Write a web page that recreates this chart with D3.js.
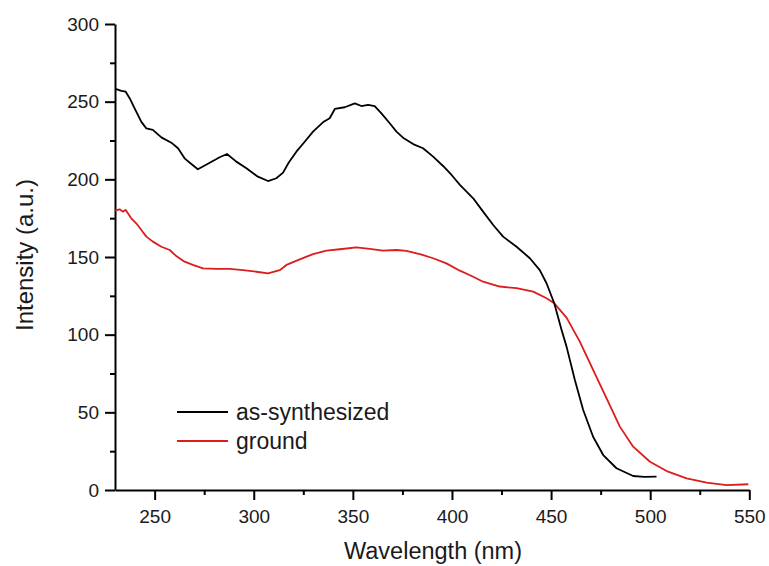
<!DOCTYPE html>
<html lang="en">
<head>
    <meta charset="utf-8">
    <title>Intensity vs wavelength</title>
    <script src="https://d3js.org/d3.v7.min.js"></script>
    <style>
        body { margin: 0; background: #fff; }
        text { font-family: Arial, "Liberation Sans", sans-serif; fill: #1a1a1a; }
        .axis path, .axis line { stroke: #000; stroke-width: 2px; }
        .axis text { font-size: 19px; }
    </style>
</head>
<body>
<div id="chart"></div>
<script>
    // as-synthesized
    var wlSynth = [230.3, 233.2, 235.4, 237.7, 239.9, 243.3, 245.8, 249.1, 253.4, 258.4, 261.8, 265.1, 268.5, 271.8,
        277.8, 282.8, 286.5, 291.2, 296.3, 302.1, 307.2, 311.4, 314.8, 317.5, 321.5, 325.7, 329.9, 334.9, 338.3, 340.9,
        345.9, 351, 354.3, 357.7, 361, 364.4, 368.6, 372, 375.3, 380.4, 385.4, 390.5, 395.5, 399.8, 404, 410.7, 415.7,
        420.8, 425.8, 432.6, 439.3, 444.3, 447.7, 451.6, 455.3, 457.8, 462, 466.2, 471.2, 476.3, 483, 491.4, 497, 503.2];
    var intSynth = [258.2, 257, 256.4, 251.5, 245.7, 237, 232.8, 231.8, 227, 223.6, 220, 213.5, 209.9, 206.5,
        210.7, 214.2, 216.3, 211.4, 207.1, 201.7, 198.9, 200.7, 204.3, 210.5, 217.8, 224.2, 230.7, 236.7, 239.3, 245.3,
        246.4, 248.9, 247.2, 247.9, 247.2, 242.5, 236.1, 230.7, 226.8, 222.7, 220, 214.6, 208.6, 202.8, 196.4, 187.8, 179.2,
        170.6, 163.1, 156.6, 149.2, 141.6, 133.1, 120.2, 103, 92.3, 70.8, 51.5, 34.3, 22.5, 14, 9, 8.5, 8.6];

    // ground
    var wlGround = [230, 232.3, 233.9, 235.4, 238.2, 240.7, 243.3, 245.8, 249.1, 253.4, 257.6, 260.9, 265.1, 269.3,
        274.4, 281.1, 287.8, 294.6, 301.3, 307.2, 313.1, 316.5, 323.2, 329.9, 336.7, 343.4, 351.8, 358.5, 365.2, 372,
        377, 383.8, 390.5, 397.2, 404, 410.7, 415.7, 424.1, 432.6, 441, 447.7, 451.6, 457.8, 464.5, 471.2, 478, 484.7,
        491.4, 499.9, 508.3, 518.4, 528.5, 538.6, 549.5];
    var intGround = [179.8, 180.7, 179.2, 180.3, 174.9, 171.7, 167.4, 163.1, 159.9, 156.6, 154.5, 150.6, 147, 144.9,
        142.7, 142.3, 142.3, 141.6, 140.5, 139.5, 141.5, 144.9, 148.5, 151.9, 154.1, 155, 156.2, 155.2, 154.1, 154.5,
        153.9, 151.9, 149.2, 145.9, 141.2, 137.3, 134.1, 131, 129.9, 127.7, 123.4, 120.2, 111, 95.5, 77.3, 59, 40.8,
        27.9, 18.2, 12.2, 7.5, 4.7, 3.2, 3.7];

    var seriesNames = ["as-synthesized", "ground"];
    var seriesColors = ["#000000", "#dd1c1c"];
    var xMajor = [250, 300, 350, 400, 450, 500, 550];
    var xMinor = [275, 325, 375, 425, 475, 525];
    var yMajor = [0, 50, 100, 150, 200, 250, 300];
    var yMinor = [25, 75, 125, 175, 225, 275];

    var W = 769, H = 566;
    var margin = {left: 115, right: 20, top: 24, bottom: 76};

    var svg = d3.select("#chart").append("svg")
        .attr("width", W)
        .attr("height", H);

    var x = d3.scaleLinear().domain([230, 550]).range([margin.left, 749.3]);
    var y = d3.scaleLinear().domain([0, 300]).range([H - margin.bottom, margin.top]);

    // minor ticks first, no labels
    svg.append("g").attr("class", "axis")
        .attr("transform", "translate(0," + y(0) + ")")
        .call(d3.axisBottom(x).tickValues(xMinor).tickSize(5).tickFormat(""))
        .select(".domain").remove();
    svg.append("g").attr("class", "axis")
        .attr("transform", "translate(" + x(230) + ",0)")
        .call(d3.axisLeft(y).tickValues(yMinor).tickSize(5).tickFormat(""))
        .select(".domain").remove();

    svg.append("g").attr("class", "axis")
        .attr("transform", "translate(0," + y(0) + ")")
        .call(d3.axisBottom(x).tickValues(xMajor).tickSize(10).tickSizeOuter(0).tickPadding(10).tickFormat(d3.format("d")));
    svg.append("g").attr("class", "axis")
        .attr("transform", "translate(" + x(230) + ",0)")
        .call(d3.axisLeft(y).tickValues(yMajor).tickSize(10).tickSizeOuter(0).tickPadding(6).tickFormat(d3.format("d")));

    var line = d3.line()
        .x(function(d) { return x(d[0]); })
        .y(function(d) { return y(d[1]); });

    var data = [d3.zip(wlSynth, intSynth), d3.zip(wlGround, intGround)];

    // ground drawn under, as-synthesized on top
    [1, 0].forEach(function(i) {
        svg.append("path")
            .datum(data[i])
            .attr("fill", "none")
            .attr("stroke", seriesColors[i])
            .attr("stroke-width", 1.8)
            .attr("stroke-linejoin", "round")
            .attr("d", line);
    });

    // legend
    var legend = svg.append("g");
    seriesNames.forEach(function(name, i) {
        var ly = 412 + i * 29;
        legend.append("line")
            .attr("x1", 177).attr("x2", 228)
            .attr("y1", ly).attr("y2", ly)
            .attr("stroke", seriesColors[i])
            .attr("stroke-width", 1.8);
        legend.append("text")
            .attr("x", 236).attr("y", ly + 8)
            .style("font-size", "23px")
            .text(name);
    });

    svg.append("text")
        .attr("x", 433).attr("y", 559)
        .attr("text-anchor", "middle")
        .style("font-size", "23.5px")
        .text("Wavelength (nm)");

    svg.append("text")
        .attr("transform", "translate(33,255) rotate(-90)")
        .attr("text-anchor", "middle")
        .style("font-size", "24px")
        .text("Intensity (a.u.)");
</script>
</body>
</html>
